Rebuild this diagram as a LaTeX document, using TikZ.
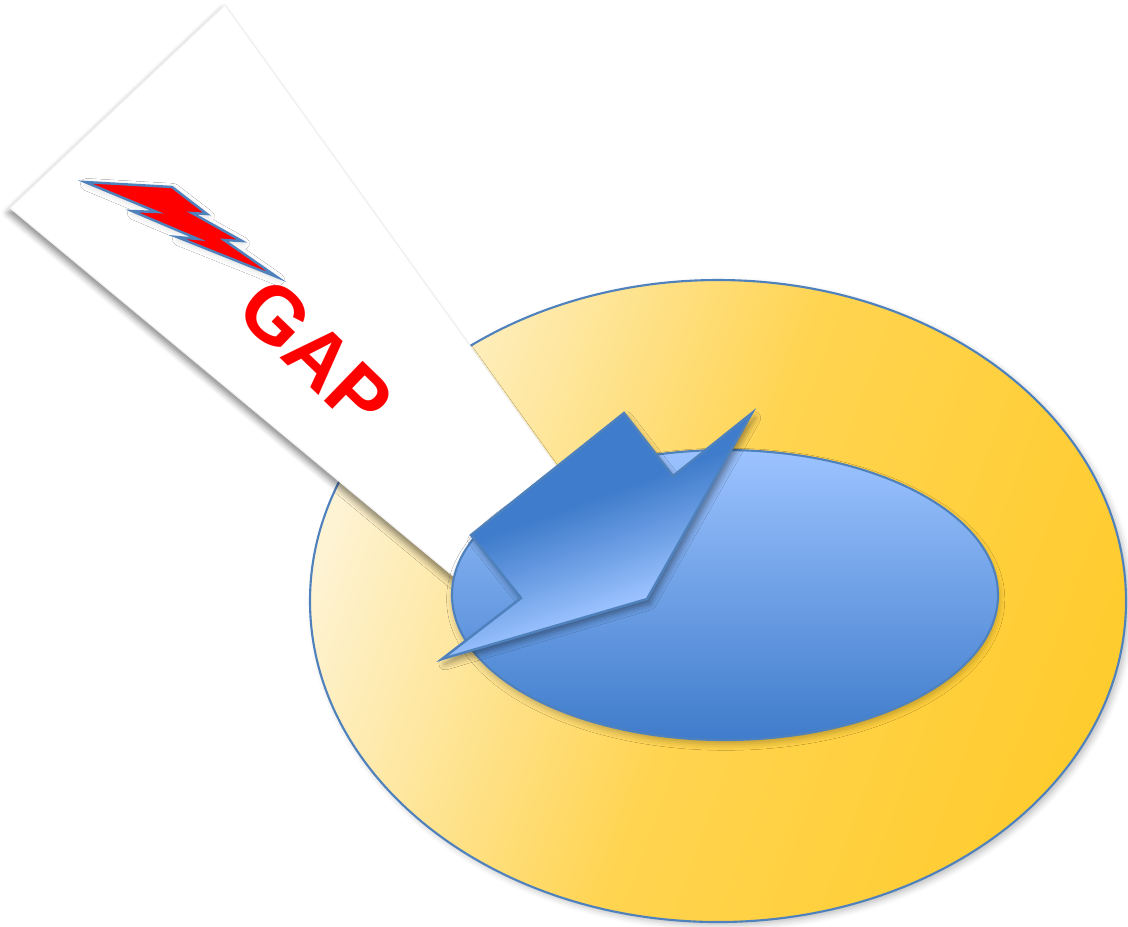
\documentclass[tikz,border=0pt]{standalone}
\usepackage{fontspec}
\newfontfamily\gapfont{Liberation Sans}
\usepackage{tikz}
\usetikzlibrary{shadings, shadows, shadows.blur}

\definecolor{Cream}{HTML}{FEF3D2}
\definecolor{Gold}{HTML}{FFCC2F}
\definecolor{EdgeBlue}{HTML}{4F81BD}
\definecolor{LightBlue}{HTML}{9CC3FF}
\definecolor{DeepBlue}{HTML}{3F7CCB}
\definecolor{GapRed}{HTML}{FF0000}

\pgfdeclareverticalshading{bentfill}{100bp}{color(0bp)=(LightBlue); color(36bp)=(LightBlue);
	color(46bp)=(DeepBlue!50!LightBlue); color(57bp)=(DeepBlue); color(100bp)=(DeepBlue)}

\tikzstyle{Outer} = [
draw=EdgeBlue, line width=0.6pt,
left color=Cream, right color=Gold, middle color=Gold!80!Cream,
shading angle=70,
blur shadow={shadow xshift=1pt, shadow yshift=-1pt, shadow opacity=25}
]
\tikzstyle{Inner} = [
draw=EdgeBlue, line width=0.6pt,
top color=LightBlue, bottom color=DeepBlue,
blur shadow={shadow xshift=0.2pt, shadow yshift=-1.2pt, shadow opacity=25}
]
\tikzstyle{Strip} = [
fill=white, draw=black!6, line width=0.3pt,
blur shadow={shadow xshift=-0.6pt, shadow yshift=-1.4pt, shadow opacity=45}
]
\tikzstyle{Bolt} = [
fill=GapRed, draw=EdgeBlue, line width=0.7pt, line join=miter,
blur shadow={shadow xshift=0.4pt, shadow yshift=-0.7pt, shadow opacity=15}
]
\tikzstyle{Bent} = [
draw=EdgeBlue, line width=0.7pt,
shading=bentfill, shading angle=20,
blur shadow={shadow xshift=0.8pt, shadow yshift=-1.4pt, shadow opacity=40}
]

\begin{document}
\begin{tikzpicture}[x=0.01cm, y=-0.01cm]
			\useasboundingbox (0,0) rectangle (1128,926);
			
			\draw[Outer] (718,601) ellipse [x radius=408, y radius=321];
			\draw[Strip] (225,5) -- (10,208) -- (470,590) -- (624,560) -- cycle;
			\draw[Inner] (725,595) ellipse [x radius=273, y radius=145];
			
			% lightning bolt
			\draw[Bolt] (85,182) -- (172,187) -- (207,214) -- (192,213) -- (242,241)
			-- (224,240) -- (277,277) -- (177,237) -- (198,239) -- (132,211)
			-- (157,212) -- cycle;
			\node[rotate=-44, text=GapRed, font=\gapfont\bfseries\fontsize{23}{28}\selectfont,
			inner sep=0pt] (gap) at (316,354) {GAP};
			
			% bent arrow
			\draw[Bent] (624,413) -- (673,476) -- (752,413) -- (647,599) -- (442,659)
			-- (521,598) -- (471,535) -- cycle;
		\end{tikzpicture}
\end{document}
